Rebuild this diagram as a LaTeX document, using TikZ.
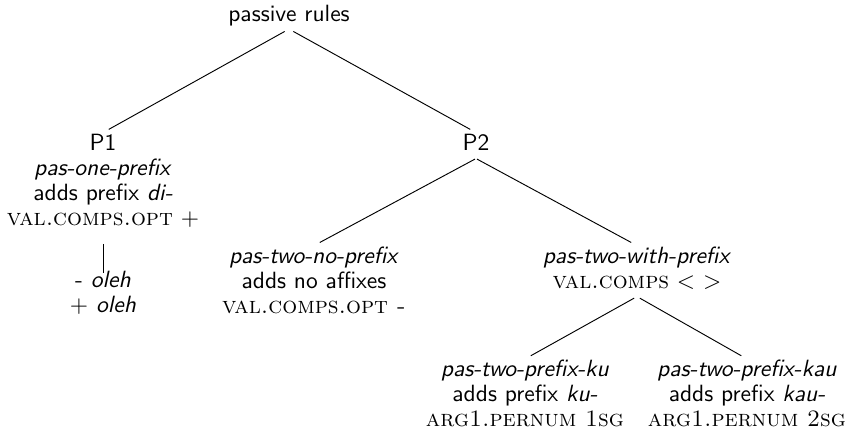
\documentclass[tikz,border=0pt]{standalone}
\newcommand\fsc[1]{{\rmfamily\scshape #1}}
\tikzset{
  tn/.style={align=center, inner sep=0pt, anchor=north, font=\sffamily\fontsize{10}{10.64}\selectfont},
  br/.style={line width=0.4pt, shorten <=0.5pt, shorten >=2.8pt},
  rootbr/.style={br, shorten <=2.1pt},
}
\begin{document}
\begin{tikzpicture}[x=0.4255pt,y=-0.4255pt]
\useasboundingbox (0,0) rectangle (849,434);
\node[tn] (root) at (289,3.1) {\strut passive rules};
\node[tn] (P1) at (103,132.6) {\strut P1\\\strut\textit{pas-one-prefix}\\\strut adds prefix \textit{di-}\\\strut\fsc{val.comps.opt} $+$};
\node[tn] (oleh) at (103,269.5) {\strut - \textit{oleh}\\\strut $+$ \textit{oleh}};
\node[tn] (P2) at (476,132.6) {\strut P2};
\node[tn] (nopre) at (314,245.6) {\strut\textit{pas-two-no-prefix}\\\strut adds no affixes\\\strut\fsc{val.comps.opt -}};
\node[tn] (withpre) at (637,245.6) {\strut\textit{pas-two-with-prefix}\\\strut\fsc{val.comps} $<$ $>$};
\node[tn] (ku) at (525,359) {\strut\textit{pas-two-prefix-ku}\\\strut adds prefix \textit{ku-}\\\strut\fsc{arg1.pernum 1sg}};
\node[tn] (kau) at (747,359) {\strut\textit{pas-two-prefix-kau}\\\strut adds prefix \textit{kau-}\\\strut\fsc{arg1.pernum 2sg}};
\draw[rootbr] (root.south) -- (P1.north);
\draw[rootbr] (root.south) -- (P2.north);
\draw[line width=0.4pt, shorten <=4.4pt, shorten >=-1.5pt] (P1.south) -- (oleh.north);
\draw[br] (P2.south) -- (nopre.north);
\draw[br] (P2.south) -- (withpre.north);
\draw[br, shorten <=1.4pt] (withpre.south) -- (ku.north);
\draw[br, shorten <=1.4pt] (withpre.south) -- (kau.north);
\end{tikzpicture}
\end{document}
